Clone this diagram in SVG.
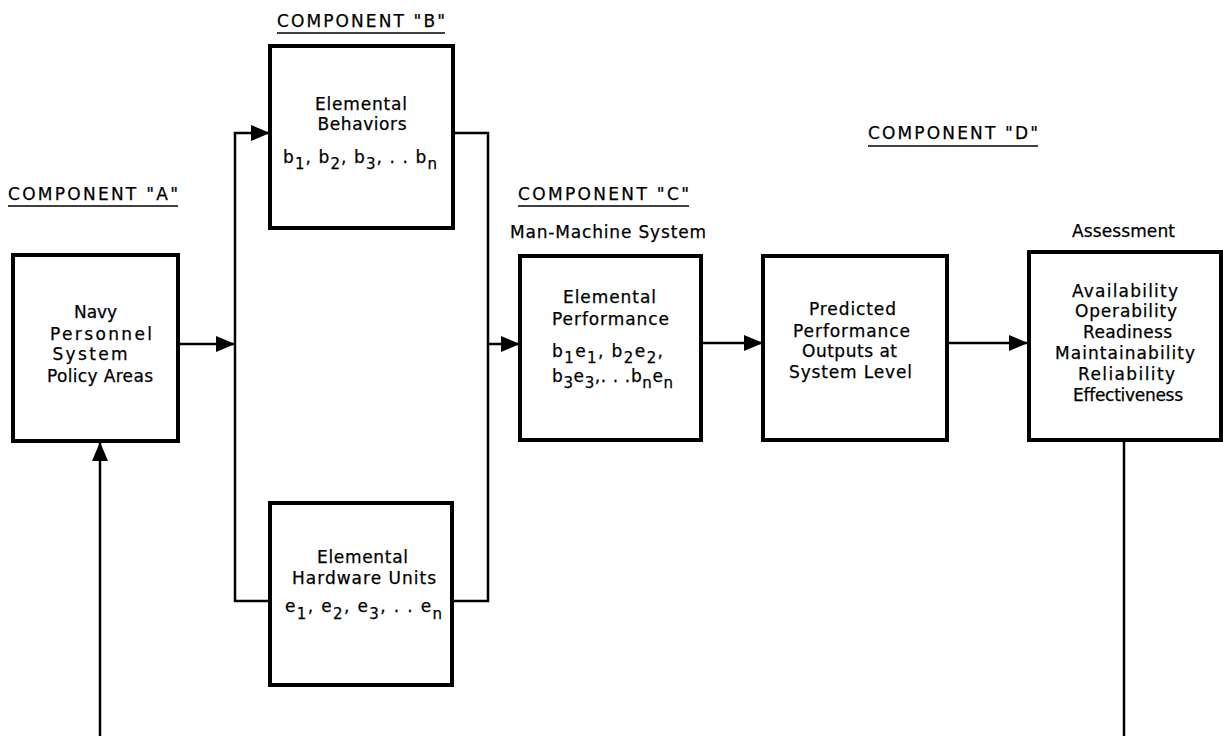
<svg xmlns="http://www.w3.org/2000/svg" width="1223" height="736" viewBox="0 0 1223 736">
<style>
  .box { fill: #fff; stroke: #000; stroke-width: 4; }
  .conn { fill: none; stroke: #000; stroke-width: 2.5; }
  .ul { stroke: #000; stroke-width: 1.5; }
  text { font-family: "DejaVu Sans", "Liberation Sans", sans-serif; font-size: 17px; fill: #000; stroke: #000; stroke-width: 0.25; }
  .c { text-anchor: middle; }
  .s { text-anchor: start; }
  .sub { font-size: 15px; }
</style>
<defs>
  <marker id="arr" markerUnits="userSpaceOnUse" markerWidth="20" markerHeight="16" refX="19" refY="8" orient="auto">
    <path d="M0,0 L19,8 L0,16 z" fill="#000"/>
  </marker>
</defs>
<rect width="1223" height="736" fill="#fff"/>

<g id="headings">
  <text x="8" y="200" class="s" textLength="170" lengthAdjust="spacing">COMPONENT "A"</text>
  <line x1="8" y1="206" x2="178" y2="206" class="ul"/>
  <text x="277" y="27" class="s" textLength="168" lengthAdjust="spacing">COMPONENT "B"</text>
  <line x1="277" y1="33" x2="445" y2="33" class="ul"/>
  <text x="518" y="200" class="s" textLength="171" lengthAdjust="spacing">COMPONENT "C"</text>
  <line x1="518" y1="206" x2="689" y2="206" class="ul"/>
  <text x="868" y="139" class="s" textLength="170" lengthAdjust="spacing">COMPONENT "D"</text>
  <line x1="868" y1="146" x2="1038" y2="146" class="ul"/>
  <text x="510" y="238" class="s" textLength="196" lengthAdjust="spacing">Man-Machine System</text>
  <text x="1072" y="237" class="s" textLength="103" lengthAdjust="spacing">Assessment</text>
</g>

<g id="connectors">
  <path class="conn" d="M178,344 H235" marker-end="url(#arr)"/>
  <path class="conn" d="M270,601 H235 V133 H270" marker-end="url(#arr)"/>
  <path class="conn" d="M453,133 H488 V601 H452"/>
  <path class="conn" d="M488,344 H520" marker-end="url(#arr)"/>
  <path class="conn" d="M701,343 H763" marker-end="url(#arr)"/>
  <path class="conn" d="M947,343 H1028" marker-end="url(#arr)"/>
  <path class="conn" d="M1124,440 V736"/>
  <path class="conn" d="M100,736 V442" marker-end="url(#arr)"/>
</g>

<g id="nodeA">
  <rect x="13" y="255" width="165" height="186" class="box"/>
  <text x="95.5" y="318" class="c" textLength="43" lengthAdjust="spacing">Navy</text>
  <text x="101" y="340" class="c" textLength="102" lengthAdjust="spacing">Personnel</text>
  <text x="90" y="360" class="c" textLength="75" lengthAdjust="spacing">System</text>
  <text x="100" y="382" class="c" textLength="106" lengthAdjust="spacing">Policy Areas</text>
</g>

<g id="nodeB1">
  <rect x="270" y="46" width="183" height="182" class="box"/>
  <text x="361" y="110" class="c" textLength="92" lengthAdjust="spacing">Elemental</text>
  <text x="362" y="130" class="c" textLength="89" lengthAdjust="spacing">Behaviors</text>
  <text x="283" y="163" class="s" textLength="154" lengthAdjust="spacing">b<tspan class="sub" dy="6">1</tspan><tspan dy="-6">, b</tspan><tspan class="sub" dy="6">2</tspan><tspan dy="-6">, b</tspan><tspan class="sub" dy="6">3</tspan><tspan dy="-6">, . . b</tspan><tspan class="sub" dy="6">n</tspan></text>
</g>

<g id="nodeB2">
  <rect x="270" y="503" width="182" height="182" class="box"/>
  <text x="362.5" y="563" class="c" textLength="91" lengthAdjust="spacing">Elemental</text>
  <text x="364" y="584" class="c" textLength="144" lengthAdjust="spacing">Hardware Units</text>
  <text x="285" y="612" class="s" textLength="157" lengthAdjust="spacing">e<tspan class="sub" dy="7">1</tspan><tspan dy="-7">, e</tspan><tspan class="sub" dy="7">2</tspan><tspan dy="-7">,  e</tspan><tspan class="sub" dy="7">3</tspan><tspan dy="-7">, . . e</tspan><tspan class="sub" dy="7">n</tspan></text>
</g>

<g id="nodeC">
  <rect x="520" y="256" width="181" height="184" class="box"/>
  <text x="609.5" y="303" class="c" textLength="93" lengthAdjust="spacing">Elemental</text>
  <text x="610.5" y="325" class="c" textLength="117" lengthAdjust="spacing">Performance</text>
  <text x="552" y="357" class="s" textLength="111" lengthAdjust="spacing">b<tspan class="sub" dy="6">1</tspan><tspan dy="-6">e</tspan><tspan class="sub" dy="6">1</tspan><tspan dy="-6">, b</tspan><tspan class="sub" dy="6">2</tspan><tspan dy="-6">e</tspan><tspan class="sub" dy="6">2</tspan><tspan dy="-6">,</tspan></text>
  <text x="552" y="382" class="s" textLength="121" lengthAdjust="spacing">b<tspan class="sub" dy="6">3</tspan><tspan dy="-6">e</tspan><tspan class="sub" dy="6">3</tspan><tspan dy="-6">,. . .b</tspan><tspan class="sub" dy="6">n</tspan><tspan dy="-6">e</tspan><tspan class="sub" dy="6">n</tspan></text>
</g>

<g id="nodePred">
  <rect x="763" y="256" width="184" height="184" class="box"/>
  <text x="852.5" y="315" class="c" textLength="87" lengthAdjust="spacing">Predicted</text>
  <text x="851.5" y="337" class="c" textLength="117" lengthAdjust="spacing">Performance</text>
  <text x="849.5" y="357" class="c" textLength="95" lengthAdjust="spacing">Outputs at</text>
  <text x="850.5" y="378" class="c" textLength="123" lengthAdjust="spacing">System Level</text>
</g>

<g id="nodeD">
  <rect x="1029" y="252" width="192" height="188" class="box"/>
  <text x="1125" y="297" class="c" textLength="106" lengthAdjust="spacing">Availability</text>
  <text x="1126" y="317" class="c" textLength="102" lengthAdjust="spacing">Operability</text>
  <text x="1127.5" y="338" class="c" textLength="89" lengthAdjust="spacing">Readiness</text>
  <text x="1125" y="359" class="c" textLength="140" lengthAdjust="spacing">Maintainability</text>
  <text x="1126.5" y="380" class="c" textLength="97" lengthAdjust="spacing">Reliability</text>
  <text x="1128" y="401" class="c" textLength="110" lengthAdjust="spacing">Effectiveness</text>
</g>
</svg>
